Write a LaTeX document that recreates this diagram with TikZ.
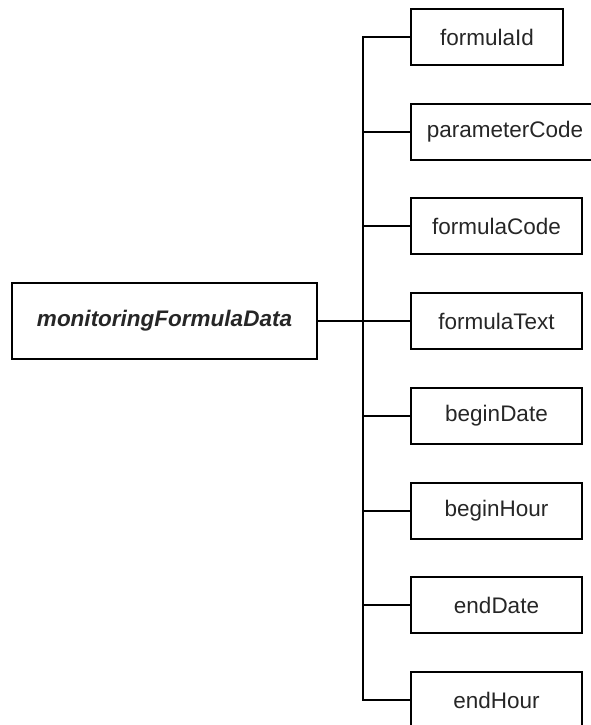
\documentclass[tikz,border=0pt]{standalone}
\usepackage{fontspec}
\setmainfont{Liberation Sans}
\begin{document}
\begin{tikzpicture}[x=1pt,y=-1pt,
  box/.style={draw,line width=1.3pt,minimum height=56pt,inner sep=0pt,font=\fontsize{22.5}{27}\selectfont,text=black!85},
  wire/.style={line width=1.3pt}]
\useasboundingbox (0,0) rectangle (590,725);
\node[box,minimum width=305pt,minimum height=76pt,font=\fontsize{22.5}{27}\selectfont\bfseries\itshape] (main) at (164.5,321) {monitoringFormulaData};
\node[box,minimum width=152pt] (fid) at (487,37) {formulaId};
\node[box,minimum width=188pt] (pcode) at (505,132) {parameterCode};
\node[box,minimum width=171pt] (fcode) at (496.5,226) {formulaCode};
\node[box,minimum width=171pt] (ftext) at (496.5,321) {formulaText};
\node[box,minimum width=171pt] (bdate) at (496.5,416) {beginDate};
\node[box,minimum width=171pt] (bhour) at (496.5,511) {beginHour};
\node[box,minimum width=171pt] (edate) at (496.5,605) {endDate};
\node[box,minimum width=171pt] (ehour) at (496.5,700) {endHour};
\coordinate (bus) at (363,321);
\draw[wire] (main.east) -- (ftext.west);
\foreach \n in {fid,pcode,fcode,bdate,bhour,edate,ehour}
  \draw[wire] (bus) |- (\n.west);
\end{tikzpicture}
\end{document}
